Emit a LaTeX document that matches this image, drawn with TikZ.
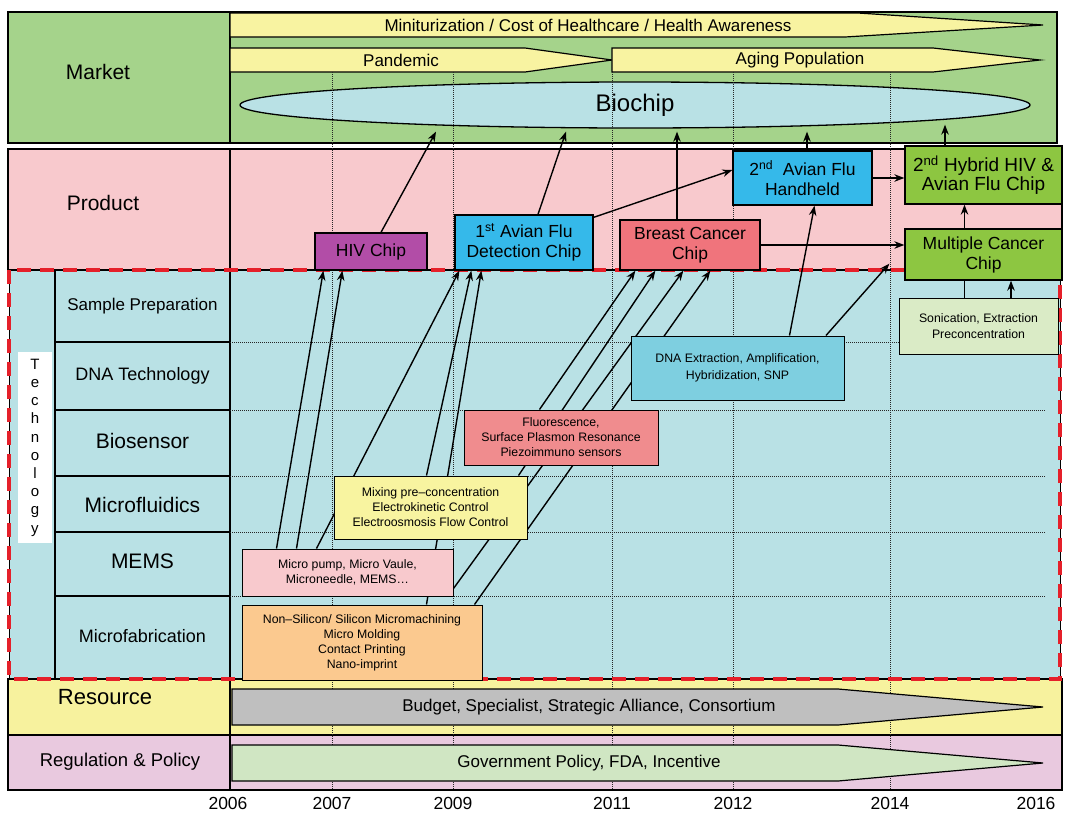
\documentclass[tikz,border=0pt]{standalone}
\usepackage{fontspec}
\setmainfont{Liberation Sans}
\usetikzlibrary{calc, shapes.geometric, arrows.meta}

\pgfdeclarelayer{back}
\pgfdeclarelayer{links}
\pgfsetlayers{back,links,main}

\definecolor{marketgreen}{HTML}{A5D38B}
\definecolor{trendyellow}{HTML}{F8F3A1}
\definecolor{chipblue}{HTML}{B9E1E5}
\definecolor{productpink}{HTML}{F8C9CD}
\definecolor{hivpurple}{HTML}{B24DA7}
\definecolor{avianblue}{HTML}{35B9EA}
\definecolor{breastred}{HTML}{F0747C}
\definecolor{chipgreen}{HTML}{8DC641}
\definecolor{techblue}{HTML}{B9E1E5}
\definecolor{nonsiorange}{HTML}{FBC98F}
\definecolor{mixyellow}{HTML}{F8F4A0}
\definecolor{fluorred}{HTML}{F08C8E}
\definecolor{dnablue}{HTML}{7ECFE0}
\definecolor{sonicgreen}{HTML}{DAEBC6}
\definecolor{resyellow}{HTML}{F7F29E}
\definecolor{budgetgrey}{HTML}{BFBFBF}
\definecolor{regpink}{HTML}{E9C9DF}
\definecolor{govgreen}{HTML}{D0E6C3}
\definecolor{roadred}{HTML}{E5202A}

\tikzset{
  rowlabel/.style={font=\fontsize{21}{24}\selectfont},
  trendtext/.style={font=\fontsize{17}{20}\selectfont},
  trend/.style={draw, line width=1.2pt},
  prodbox/.style={draw, line width=1.3pt, align=center, inner sep=0pt, font=\fontsize{17.5}{20}\selectfont},
  techbox/.style={draw, line width=1pt, align=center, inner sep=0pt, font=\fontsize{12.3}{15}\selectfont},
  flow/.style={line width=1.4pt, -{Stealth[length=10pt, width=7.5pt]}},
  yearline/.style={densely dotted, line width=1pt, black!85},
}

\begin{document}
\begin{tikzpicture}[x=1pt, y=-1pt]
  \def\xMIN{0}
  \def\xMAX{1066}
  \def\yMIN{0}
  \def\yMAX{812}
  \def\xCUT{230}

  \useasboundingbox (\xMIN,\yMIN) rectangle (\xMAX,\yMAX);

  \begin{pgfonlayer}{back}
    \begin{scope}[line width=1.2pt]
      \draw [fill=marketgreen] (8,12) rectangle (1057,143);
      \draw [fill=productpink] (8,149) rectangle (1062,270);
      \fill [techblue] (9,270) rectangle (1060,679);
      \draw [fill=resyellow] (8,679) rectangle (1062,735);
      \draw [fill=regpink] (8,735) rectangle (1062,790);
      \draw (\xCUT,12) -- (\xCUT,143) (\xCUT,149) -- (\xCUT,270) (\xCUT,679) -- (\xCUT,790);
      \foreach \ya/\yb in {270/342, 342/410, 410/476, 476/532, 532/596, 596/679}
        \draw (55,\ya) rectangle (\xCUT,\yb);
    \end{scope}

    \draw [trend, fill=trendyellow] (230,13) -- (858,13) -- (1043,25) -- (845,37) -- (230,37) -- cycle;
    \draw [trend, fill=trendyellow] (230,48) -- (525,48) -- (612,60) -- (525,72) -- (230,72) -- cycle;
    \draw [trend, fill=trendyellow] (612,48) -- (933,48) -- (1040,60) -- (933,72) -- (612,72) -- cycle;
    \node [draw, line width=1.3pt, fill=chipblue, ellipse, inner sep=0pt, minimum width=790pt,
      minimum height=46pt, font=\fontsize{24}{28}\selectfont] (bio) at (635,105) {Biochip};

    \foreach \xx in {332, 453, 612, 733, 890}
      \draw [yearline] (\xx,72) -- (\xx,790);
    \foreach \yy in {342, 410, 476, 532, 596}
      \draw [yearline] (\xCUT,\yy) -- (1045,\yy);

    \draw [trend, fill=budgetgrey] (232,689) -- (838,689) -- (1043,707) -- (838,725) -- (232,725) -- cycle;
    \draw [trend, fill=govgreen] (232,745) -- (838,745) -- (1043,763) -- (838,781) -- (232,781) -- cycle;

    \draw [line width=1pt] (9,270) rectangle (1060,679);
    \draw [roadred, line width=4.5pt, dash pattern=on 14pt off 9pt] (9,270) rectangle (1060,679);
  \end{pgfonlayer}

  \node [trendtext] (mini) at (588,25) {Miniturization / Cost of Healthcare / Health Awareness};
  \node [trendtext] (pandemic) at (401,60) {Pandemic};
  \node [trendtext] (aging) at (800,60) {Aging Population};
  \node [trendtext] (budget) at (589,707) {Budget, Specialist, Strategic Alliance, Consortium};
  \node [trendtext] (gov) at (589,763) {Government Policy, FDA, Incentive};

  \node [rowlabel] (market) at (98,72) {Market};
  \node [rowlabel] (product) at (103,203) {Product};
  \node [rowlabel, font=\fontsize{22}{24}\selectfont] (resource) at (105,697) {Resource};
  \node [rowlabel, font=\fontsize{18.5}{22}\selectfont] (regulation) at (120,762) {Regulation \& Policy};

  \node [fill=white, inner sep=0pt, minimum width=34pt, minimum height=191pt, align=center,
    font=\fontsize{15}{18.2}\selectfont] (techno) at (35,447.5) {T\\e\\c\\h\\n\\o\\l\\o\\g\\y};
  \node [font=\fontsize{17}{20}\selectfont] (sample) at (142.5,306) {Sample Preparation};
  \node [font=\fontsize{18}{20}\selectfont] (dnatech) at (142.5,376) {DNA Technology};
  \node [rowlabel] (biosensor) at (142.5,441) {Biosensor};
  \node [rowlabel] (microfluid) at (142.5,505) {Microfluidics};
  \node [rowlabel] (mems) at (142.5,561) {MEMS};
  \node [font=\fontsize{18}{20}\selectfont] (microfab) at (142.5,636) {Microfabrication};

  \foreach \yr/\xx in {2006/228, 2007/332, 2009/453, 2011/612, 2012/733, 2014/890, 2016/1036}
    \node [font=\fontsize{17.5}{20}\selectfont] (y\yr) at (\xx,803) {\yr};

  \node [prodbox, fill=hivpurple, minimum width=112pt, minimum height=37pt] (hiv) at (371,251.5) {HIV Chip};
  \node [prodbox, fill=avianblue, minimum width=138pt, minimum height=55pt] (av1) at (524,242.5)
    {1\textsuperscript{st} Avian Flu\\Detection Chip};
  \node [prodbox, fill=breastred, minimum width=140pt, minimum height=50pt] (bc) at (690,245)
    {Breast Cancer\\Chip};
  \node [prodbox, fill=avianblue, minimum width=139pt, minimum height=54pt] (av2) at (802.5,178)
    {2\textsuperscript{nd}\ \ Avian Flu\\Handheld};
  \node [prodbox, fill=chipgreen, minimum width=157pt, minimum height=58pt,
    font=\fontsize{19}{19}\selectfont] (hyb) at (983.5,175) {2\textsuperscript{nd} Hybrid HIV \&\\Avian Flu Chip};
  \node [prodbox, fill=chipgreen, minimum width=157pt, minimum height=51pt] (mcc) at (983.5,254.5)
    {Multiple Cancer\\Chip};

  \node [techbox, fill=productpink, minimum width=211pt, minimum height=47pt] (mpump) at (347.5,572.5)
    {Micro pump, Micro Vaule,\\Microneedle, MEMS\ldots};
  \node [techbox, fill=nonsiorange, minimum width=240pt, minimum height=75pt] (nonsi) at (362,642.5)
    {Non--Silicon/ Silicon Micromachining\\Micro Molding\\Contact Printing\\Nano-imprint};
  \node [techbox, fill=mixyellow, minimum width=193pt, minimum height=63pt] (mix) at (430.5,507.5)
    {Mixing pre--concentration\\Electrokinetic Control\\Electroosmosis Flow Control};
  \node [techbox, fill=fluorred, minimum width=194pt, minimum height=55pt] (fluor) at (561,437.5)
    {Fluorescence,\\Surface Plasmon Resonance\\Piezoimmuno sensors};
  \node [techbox, fill=dnablue, minimum width=213pt, minimum height=64pt,
    font=\fontsize{12.3}{17}\selectfont] (dnx) at (737.5,368) {DNA Extraction, Amplification,\\Hybridization, SNP};
  \node [techbox, fill=sonicgreen, minimum width=159pt, minimum height=56pt,
    font=\fontsize{12.3}{16}\selectfont] (sonic) at (978.5,326) {Sonication, Extraction\\Preconcentration};

  \begin{pgfonlayer}{links}
    \draw [flow] ($(hiv.north)+(10,0)$) -- ($(bio.south)+(-199,3)$);
    \draw [flow] ($(av1.north)+(14,0)$) -- ($(bio.south)+(-69,3)$);
    \draw [flow] ($(bc.north)+(-13,0)$) -- ($(bio.south)+(42,3)$);
    \draw [flow] ($(av2.north)+(4.5,0)$) -- ($(bio.south)+(172,3)$);
    \draw [flow] ($(hyb.north)+(-38.5,0)$) -- ($(bio.south)+(310,-4)$);

    \draw [flow] ($(av1.north east)+(0,3)$) -- ($(av2.west)+(0,-8)$);
    \draw [flow] (av2.east) -- (av2.east -| hyb.west);
    \draw [flow] (bc.east) -- (bc.east -| mcc.west);
    \draw [flow] ($(mcc.north)+(-19,0)$) -- ($(hyb.south)+(-19,0)$);
    \draw [line width=1.4pt] ($(sonic.north)+(-14,0)$) -- ($(mcc.south)+(-19,0)$);
    \draw [flow] ($(sonic.north)+(32.5,0)$) -- ($(mcc.south)+(27.5,0)$);

    \draw [flow] ($(dnx.north)+(52,0)$) -- ($(av2.south)+(12,0)$);
    \draw [flow] ($(dnx.north)+(88.5,0)$) -- ($(mcc.south west)+(-15,-17)$);

    \draw [flow] ($(mpump.north west)+(35,0)$) -- ($(hiv.south west)+(9,0)$);
    \draw [flow] ($(mpump.north west)+(55,0)$) -- ($(hiv.south west)+(28,0)$);
    \draw [flow] ($(mpump.north west)+(75,0)$) -- ($(av1.south west)+(5,0)$);
    \draw [flow] ($(mix.north west)+(93,0)$) -- ($(av1.south west)+(17,0)$);
    \draw [flow] ($(nonsi.north west)+(185,0)$) -- ($(av1.south west)+(27,0)$);

    \draw [flow] ($(fluor.north west)+(76,0)$) -- ($(bc.south west)+(16,0)$);
    \draw [flow] ($(mix.north west)+(185,0)$) -- ($(bc.south west)+(36,0)$);
    \draw [flow] ($(mpump.south east)+(0,-8)$) -- ($(bc.south west)+(64,0)$);
    \draw [flow] ($(nonsi.north west)+(233,0)$) -- ($(bc.south west)+(91,0)$);
  \end{pgfonlayer}
\end{tikzpicture}
\end{document}
